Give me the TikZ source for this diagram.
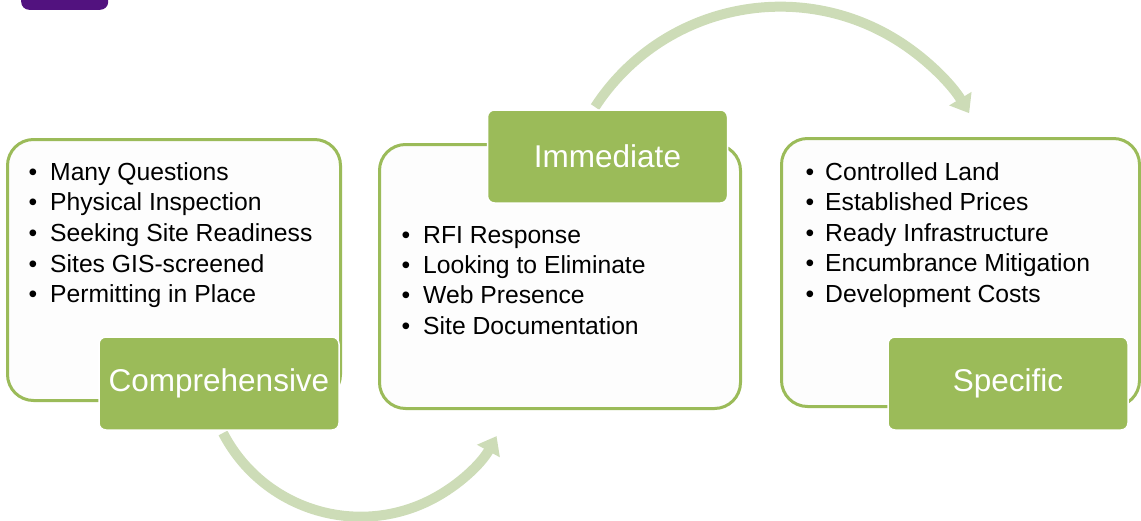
\documentclass[tikz,border=0pt]{standalone}
\usepackage{fontspec}
\setmainfont{Liberation Sans}
\usetikzlibrary{arrows.meta}
\definecolor{leaf}{HTML}{9BBB59}
\definecolor{pale}{HTML}{CDDCB7}
\definecolor{plum}{HTML}{52127F}
\definecolor{paper}{HTML}{FDFDFD}
\newcommand{\bul}[1]{\llap{\textbullet\hspace{#1}}}
\begin{document}
\begin{tikzpicture}[x=1pt,y=1pt,
  card/.style={draw=leaf, line width=3pt, fill=paper, rounded corners=26pt,
    inner sep=0pt},
  tag/.style={fill=leaf, draw=white, line width=1.5pt, rounded corners=7pt,
    text=white, font=\fontsize{31.5}{36}\selectfont,
    minimum width=240pt, minimum height=93pt, inner sep=0pt},
  item/.style={anchor=base west, inner sep=0pt,
    font=\fontsize{24.7}{30}\selectfont},
  flow/.style={draw=pale, line width=10pt,
    -{Triangle[length=17pt,width=25pt]}}]

\useasboundingbox (0,0) rectangle (1141,-520);

% corner badge
\node[fill=plum, rounded corners=8pt, minimum width=87pt, minimum height=30pt,
  inner sep=0pt, anchor=south west] (badge) at (21,-10) {};

% curved flow arrows (behind the cards)
\draw[flow] ([shift={(4,-3)}]219,-430) arc[start angle=207.4, end angle=331.3, radius=155pt];
\draw[flow] (595,-107) arc[start angle=146.9, end angle=31.2, radius=221pt];

% cards
\node[card, minimum width=333pt, minimum height=261pt] (c1) at (174,-270) {};
\node[card, minimum width=361pt, minimum height=264pt] (c2) at (560,-276.5) {};
\node[card, minimum width=358pt, minimum height=268pt] (c3) at (960.5,-272.5) {};

% headings
\node[tag] (t1) at (219,-383.5) {Comprehensive};
\node[tag] (t2) at (607.5,-156.5) {Immediate};
\node[tag] (t3) at (1008,-383.5) {Specific};

% bullet lists
\foreach \t [count=\i] in {Many Questions, Physical Inspection,
    Seeking Site Readiness, Sites GIS-screened, Permitting in Place}
  \node[item] (a\i) at (50,{-180-30.7*(\i-1)}) {\bul{13pt}\t};
\foreach \t [count=\i] in {RFI Response, Looking to Eliminate,
    Web Presence, Site Documentation}
  \node[item] (b\i) at (423,{-243-30.4*(\i-1)}) {\bul{13pt}\t};
\foreach \t [count=\i] in {Controlled Land, Established Prices,
    Ready Infrastructure, Encumbrance Mitigation, Development Costs}
  \node[item] (d\i) at (825,{-180-30.5*(\i-1)}) {\bul{11pt}\t};
\end{tikzpicture}
\end{document}
